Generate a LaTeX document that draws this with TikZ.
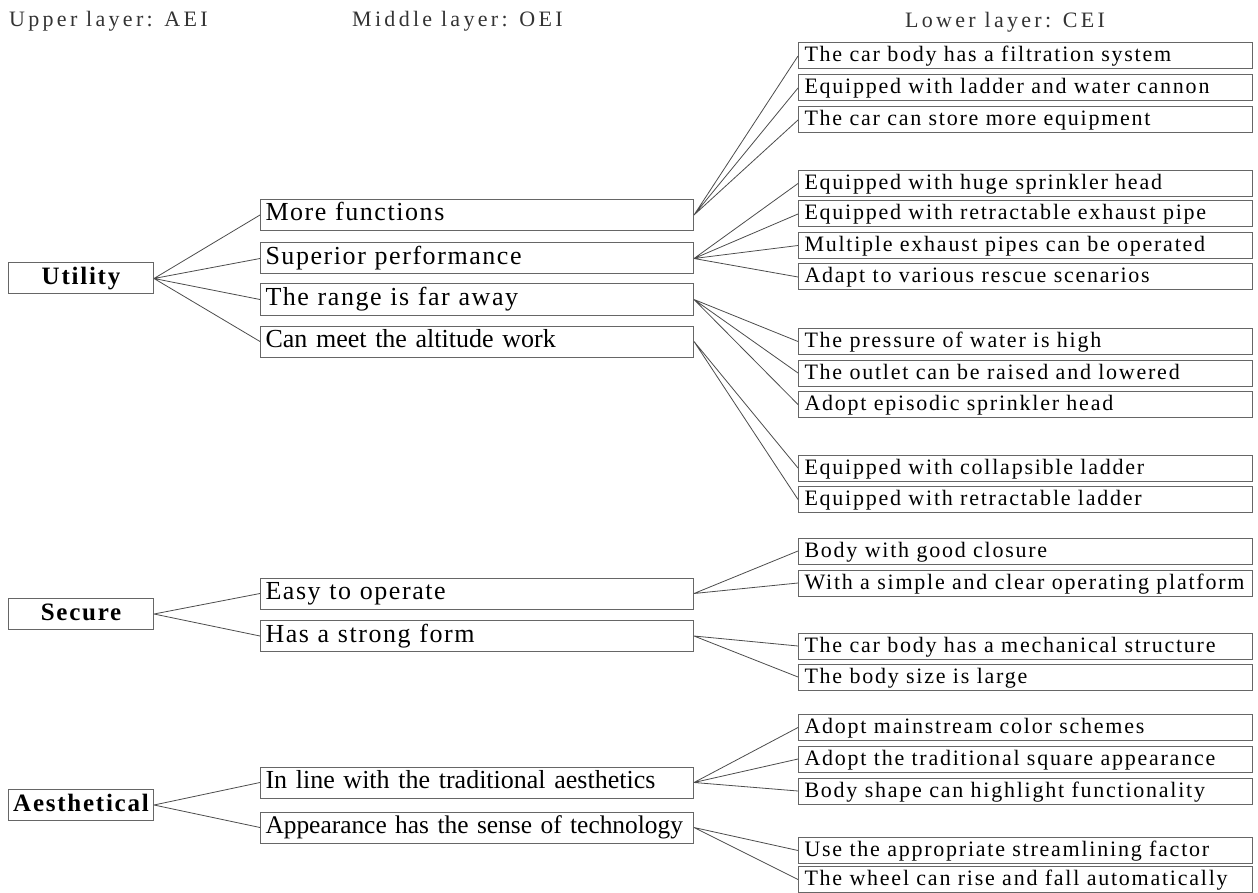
\documentclass[tikz,border=0pt]{standalone}
\usepackage{fontspec}
\setmainfont{Liberation Serif}
\newfontfamily\headfont[LetterSpace=15]{Liberation Serif}
\newfontfamily\topfont[LetterSpace=7]{Liberation Serif}
\newfontfamily\midfont[LetterSpace=6]{Liberation Serif}
\newfontfamily\midtightfont{Liberation Serif}
\newfontfamily\lowfont[LetterSpace=8]{Liberation Serif}

\begin{document}
\begin{tikzpicture}[x=1pt,y=-1pt,
    layer title/.style={anchor=base west,inner sep=0pt,text=black!80,font=\headfont\fontsize{22}{26}\selectfont},
    upper node/.style={draw=black!60,line width=1pt,anchor=west,minimum width=145pt,minimum height=31pt,inner sep=0pt,text height=18pt,text depth=6pt,font=\topfont\bfseries\fontsize{25}{28}\selectfont},
    middle node/.style={draw=black!60,line width=1pt,anchor=west,text width=423pt,align=left,inner xsep=5pt,inner ysep=0pt,minimum height=31pt,text height=18pt,text depth=6pt,font=\midfont\fontsize{26}{30}\selectfont},
    tight/.style={font=\midtightfont\fontsize{26}{30}\selectfont},
    tighter/.style={font=\midtightfont\fontsize{25.4}{30}\selectfont},
    lower node/.style={draw=black!60,line width=1pt,anchor=west,text width=442pt,align=left,inner xsep=6pt,inner ysep=0pt,minimum height=26pt,text height=16pt,text depth=4pt,font=\lowfont\fontsize{22}{24}\selectfont},
    link/.style={draw=black!70,line width=0.8pt}]
    \useasboundingbox (0,0) rectangle (1258,893);

    % titles
    \node[layer title] (t1) at (9,27) {Upper layer: AEI};
    \node[layer title] (t2) at (352,27) {Middle layer: OEI};
    \node[layer title] (t3) at (905,28) {Lower layer: CEI};

    % upper layer
    \node[upper node] (u1) at (8,278.5) {Utility};
    \node[upper node] (u2) at (8,614) {Secure};
    \node[upper node] (u3) at (8,805) {Aesthetical};

    % middle layer
    \node[middle node] (m1) at (260,215) {More functions};
    \node[middle node] (m2) at (260,258.5) {Superior performance};
    \node[middle node] (m3) at (260,299.5) {The range is far away};
    \node[middle node,tight] (m4) at (260,341.5) {Can meet the altitude work};
    \node[middle node] (m5) at (260,593.5) {Easy to operate};
    \node[middle node] (m6) at (260,636) {Has a strong form};
    \node[middle node,tight] (m7) at (260,782.5) {In line with the traditional aesthetics};
    \node[middle node,tighter] (m8) at (260,827.5) {Appearance has the sense of technology};

    % lower layer
    \node[lower node] (l1) at (798,56) {The car body has a filtration system};
    \node[lower node] (l2) at (798,88) {Equipped with ladder and water cannon};
    \node[lower node] (l3) at (798,120) {The car can store more equipment};
    \node[lower node] (l4) at (798,183.5) {Equipped with huge sprinkler head};
    \node[lower node] (l5) at (798,214) {Equipped with retractable exhaust pipe};
    \node[lower node] (l6) at (798,245.5) {Multiple exhaust pipes can be operated};
    \node[lower node] (l7) at (798,277) {Adapt to various rescue scenarios};
    \node[lower node] (l8) at (798,341.5) {The pressure of water is high};
    \node[lower node] (l9) at (798,373) {The outlet can be raised and lowered};
    \node[lower node] (l10) at (798,404.5) {Adopt episodic sprinkler head};
    \node[lower node] (l11) at (798,468) {Equipped with collapsible ladder};
    \node[lower node] (l12) at (798,499.5) {Equipped with retractable ladder};
    \node[lower node] (l13) at (798,551) {Body with good closure};
    \node[lower node] (l14) at (798,583) {With a simple and clear operating platform};
    \node[lower node] (l15) at (798,646) {The car body has a mechanical structure};
    \node[lower node] (l16) at (798,677) {The body size is large};
    \node[lower node] (l17) at (798,727.5) {Adopt mainstream color schemes};
    \node[lower node] (l18) at (798,759) {Adopt the traditional square appearance};
    \node[lower node] (l19) at (798,791) {Body shape can highlight functionality};
    \node[lower node] (l20) at (798,850.5) {Use the appropriate streamlining factor};
    \node[lower node] (l21) at (798,879.5) {The wheel can rise and fall automatically};

    % upper to middle
    \draw[link] (u1.east) -- (m1.west) (u1.east) -- (m2.west)
                (u1.east) -- (m3.west) (u1.east) -- (m4.west)
                (u2.east) -- (m5.west) (u2.east) -- (m6.west)
                (u3.east) -- (m7.west) (u3.east) -- (m8.west);

    % middle to lower
    \draw[link] (m1.east) -- (l1.west) (m1.east) -- (l2.west) (m1.east) -- (l3.west)
                (m2.east) -- (l4.west) (m2.east) -- (l5.west)
                (m2.east) -- (l6.west) (m2.east) -- (l7.west)
                (m3.east) -- (l8.west) (m3.east) -- (l9.west) (m3.east) -- (l10.west)
                (m4.east) -- (l11.west) (m4.east) -- (l12.west)
                (m5.east) -- (l13.west) (m5.east) -- (l14.west)
                (m6.east) -- (l15.west) (m6.east) -- (l16.west)
                (m7.east) -- (l17.west) (m7.east) -- (l18.west) (m7.east) -- (l19.west)
                (m8.east) -- (l20.west) (m8.east) -- (l21.west);
\end{tikzpicture}
\end{document}
